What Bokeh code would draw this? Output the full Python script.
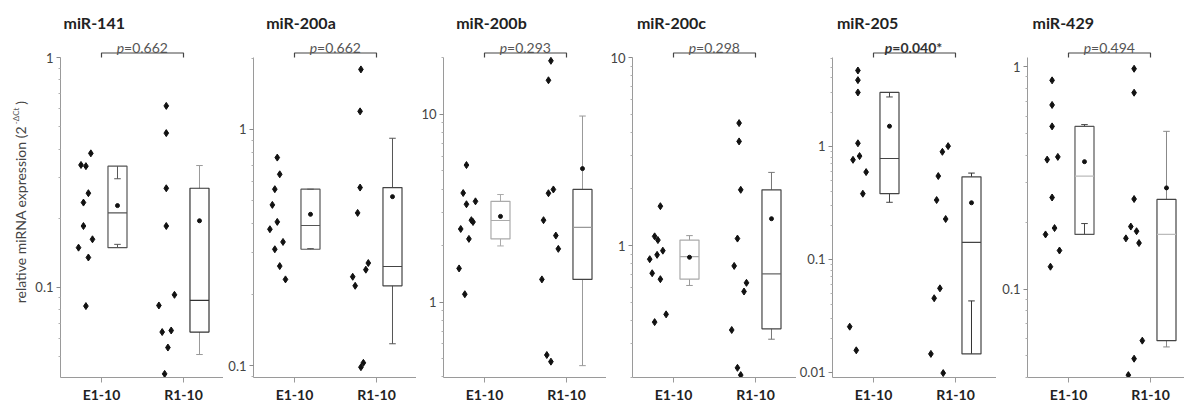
import math
from bokeh.plotting import figure
from bokeh.layouts import row
from bokeh.models import Range1d, FixedTicker, CustomJSTickFormatter
from bokeh.core.properties import value
from bokeh.embed import file_html
from bokeh.resources import INLINE

# ---------------- data ----------------
MIRNAS = ["miR-141", "miR-200a", "miR-200b", "miR-200c", "miR-205", "miR-429"]
GROUPS = ["E1-10", "R1-10"]
P_VALUES = ["=0.662", "=0.662", "=0.293", "=0.298", "=0.040*", "=0.494"]
P_SIGNIFICANT = [False, False, False, False, True, False]
Y_LABEL = "relative miRNA expression (2"
Y_LABEL_SUP = "-ΔCt"

AXIS_MIN = [0.0406, 0.0893, 0.396, 0.199, 0.00903, 0.040]
AXIS_MAX = [1.0, 2.01, 20.1, 10.0, 6.07, 1.10]
MAJOR_TICKS = [[0.1, 1], [0.1, 1], [1, 10], [1, 10], [0.01, 0.1, 1], [0.1, 1]]

# individual values (relative expression)
E_VALUES = [
    [0.383, 0.341, 0.337, 0.257, 0.234, 0.185, 0.162, 0.149, 0.135, 0.083],
    [0.759, 0.645, 0.558, 0.479, 0.406, 0.378, 0.334, 0.311, 0.264, 0.232],
    [5.37, 3.81, 3.44, 3.32, 2.73, 2.67, 2.45, 2.17, 1.51, 1.10],
    [1.62, 1.12, 1.07, 0.940, 0.893, 0.847, 0.713, 0.663, 0.431, 0.392],
    [4.66, 3.83, 2.98, 1.06, 0.817, 0.757, 0.590, 0.380, 0.0254, 0.0157],
    [0.868, 0.673, 0.539, 0.393, 0.382, 0.258, 0.188, 0.176, 0.149, 0.126],
]
R_VALUES = [
    [0.616, 0.469, 0.270, 0.185, 0.0929, 0.0835, 0.064, 0.065, 0.0548, 0.0421],
    [1.79, 1.19, 0.567, 0.443, 0.272, 0.255, 0.238, 0.218, 0.103, 0.0987],
    [19.3, 15.2, 3.98, 3.80, 2.73, 2.26, 1.92, 1.32, 0.522, 0.481],
    [4.48, 3.58, 1.98, 1.09, 0.780, 0.634, 0.570, 0.356, 0.224, 0.205],
    [1.00, 0.891, 0.544, 0.334, 0.227, 0.0554, 0.0453, 0.0146, 0.00988],
    [0.979, 0.764, 0.254, 0.191, 0.182, 0.169, 0.161, 0.0586, 0.0486, 0.0410],
]
# horizontal jitter of the dots (category units)
E_JITTER = [
    [-0.13, -0.25, -0.19, -0.16, -0.22, -0.22, -0.11, -0.28, -0.16, -0.19],
    [-0.21, -0.18, -0.24, -0.27, -0.21, -0.30, -0.14, -0.24, -0.18, -0.11],
    [-0.22, -0.26, -0.11, -0.22, -0.16, -0.14, -0.29, -0.19, -0.31, -0.24],
    [-0.16, -0.23, -0.19, -0.13, -0.20, -0.29, -0.26, -0.16, -0.09, -0.23],
    [-0.19, -0.19, -0.19, -0.19, -0.17, -0.25, -0.09, -0.13, -0.29, -0.21],
    [-0.20, -0.20, -0.20, -0.13, -0.26, -0.20, -0.17, -0.28, -0.11, -0.22],
]
R_JITTER = [
    [-0.21, -0.21, -0.21, -0.21, -0.11, -0.30, -0.26, -0.15, -0.19, -0.23],
    [-0.19, -0.20, -0.20, -0.23, -0.10, -0.13, -0.29, -0.26, -0.16, -0.19],
    [-0.19, -0.22, -0.16, -0.22, -0.28, -0.13, -0.10, -0.30, -0.24, -0.19],
    [-0.20, -0.20, -0.18, -0.22, -0.26, -0.11, -0.14, -0.29, -0.22, -0.18],
    [-0.09, -0.16, -0.21, -0.23, -0.12, -0.19, -0.26, -0.30, -0.15],
    [-0.20, -0.20, -0.20, -0.24, -0.17, -0.30, -0.14, -0.10, -0.20, -0.27],
]
# box statistics
E_Q1 = [0.149, 0.311, 2.17, 0.663, 0.380, 0.176]
E_MEDIAN = [0.211, 0.392, 2.72, 0.874, 0.778, 0.322]
E_Q3 = [0.337, 0.558, 3.44, 1.07, 2.98, 0.539]
E_MEAN = [0.227, 0.437, 2.86, 0.867, 1.50, 0.374]
E_WLO = [0.154, 0.313, 1.99, 0.614, 0.319, 0.197]
E_WHI = [0.297, 0.558, 3.74, 1.13, 2.72, 0.549]
R_Q1 = [0.064, 0.218, 1.32, 0.361, 0.0146, 0.0586]
R_MEDIAN = [0.0878, 0.263, 2.50, 0.708, 0.141, 0.176]
R_Q3 = [0.270, 0.567, 3.98, 1.98, 0.536, 0.253]
R_MEAN = [0.195, 0.519, 5.14, 1.39, 0.316, 0.285]
R_WLO = [0.0511, 0.124, 0.458, 0.318, 0.0429, 0.0549]
R_WHI = [0.339, 0.916, 9.80, 2.45, 0.578, 0.512]

# box colours: (outline, median, whisker)
E_BOX_COLORS = [("#555555", "#555555", "#555555"), ("#555555", "#555555", "#555555"),
                ("#aaaaaa", "#aaaaaa", "#aaaaaa"), ("#aaaaaa", "#aaaaaa", "#999999"),
                ("#444444", "#444444", "#444444"), ("#555555", "#bbbbbb", "#444444")]
R_BOX_COLORS = [("#333333", "#333333", "#999999"), ("#444444", "#444444", "#555555"),
                ("#444444", "#999999", "#999999"), ("#444444", "#666666", "#777777"),
                ("#444444", "#444444", "#333333"), ("#444444", "#bbbbbb", "#888888")]

# ---------------- layout ----------------
FONT = "Lato"
CANVAS_H = 399
TOP_GAP = 57           # px between canvas top and top of y axis
FRAME_H = 377
AXIS_PX = FRAME_H - TOP_GAP
BOTTOM = CANVAS_H - FRAME_H
PX_PER_UNIT = 82.0
LABEL_W = 30
LEFT_BORDERS = [30, 30, 27, 26, 36, 31]
FRAME_WIDTHS = [163, 163, 163, 164, 164, 157]
TITLE_DX = [3, 12.7, 12.7, 4.4, 4.4, 5]
BOX_OFF = 0.195
BOX_HALF = 0.116
CAP_HALF = 0.04


def y_above(i, px):
    lmin, lmax = math.log10(AXIS_MIN[i]), math.log10(AXIS_MAX[i])
    ppl = AXIS_PX / (lmax - lmin)
    return 10 ** (lmax + px / ppl)


def minor_ticks(i):
    lo, hi = AXIS_MIN[i], AXIS_MAX[i]
    out = []
    for d in range(math.floor(math.log10(lo)) - 1, math.ceil(math.log10(hi)) + 1):
        for k in range(2, 10):
            v = k * 10 ** d
            if lo <= v <= hi:
                out.append(v)
    return out


def draw_box(p, xc, q1, med, q3, mean, wlo, whi, colors):
    oc, mc, wc = colors
    p.segment(x0=[xc, xc], y0=[q3, q1], x1=[xc, xc], y1=[whi, wlo], line_color=wc, line_width=1)
    p.segment(x0=[xc - CAP_HALF] * 2, y0=[whi, wlo], x1=[xc + CAP_HALF] * 2, y1=[whi, wlo],
              line_color=wc, line_width=1)
    p.quad(left=[xc - BOX_HALF], right=[xc + BOX_HALF], bottom=[q1], top=[q3],
           fill_color=None, line_color=oc, line_width=1.2)
    p.segment(x0=[xc - BOX_HALF], y0=[med], x1=[xc + BOX_HALF], y1=[med], line_color=mc, line_width=1.2)
    p.scatter(x=[xc], y=[mean], size=4, marker="circle", color="#111111")


# y-axis title panel (rotated text); y measured upward from canvas bottom
lab = figure(width=LABEL_W, height=CANVAS_H, x_range=Range1d(0, LABEL_W), y_range=Range1d(0, CANVAS_H),
             output_backend="svg", toolbar_location=None, min_border=0,
             min_border_left=0, min_border_right=0, min_border_top=0, min_border_bottom=0,
             x_axis_location=None, y_axis_location=None)
lab.outline_line_color = None
lab.grid.visible = False
lab.text(x=[20], y=[264], text=[Y_LABEL], angle=math.pi / 2, text_font=value(FONT),
         text_font_size="14px", text_color="#444444", text_align="right", text_baseline="middle")
lab.text(x=[15.5], y=[266], text=[Y_LABEL_SUP], angle=math.pi / 2, text_font=value(FONT),
         text_font_size="8px", text_color="#555555", text_align="left", text_baseline="middle")
lab.text(x=[20], y=[287], text=[")"], angle=math.pi / 2, text_font=value(FONT),
         text_font_size="14px", text_color="#444444", text_align="left", text_baseline="middle")

figs = [lab]
for i, name in enumerate(MIRNAS):
    fw = FRAME_WIDTHS[i]
    x_end = 0.5 + fw / PX_PER_UNIT
    p = figure(frame_width=fw, frame_height=FRAME_H, x_range=Range1d(0.5, x_end),
               y_range=Range1d(AXIS_MIN[i], y_above(i, TOP_GAP)), y_axis_type="log",
               output_backend="svg", toolbar_location=None,
               min_border_left=LEFT_BORDERS[i], min_border_right=0, min_border_top=0,
               min_border_bottom=BOTTOM)
    p.outline_line_color = None
    p.grid.visible = False

    # x axis
    xa = p.xaxis[0]
    xa.ticker = FixedTicker(ticks=[1, 2])
    xa.major_label_overrides = {1: GROUPS[0], 2: GROUPS[1]}
    xa.minor_tick_line_color = None
    xa.major_tick_in = 0
    xa.major_tick_out = 5
    xa.axis_line_color = "#9a9a9a"
    xa.major_tick_line_color = "#9a9a9a"
    xa.major_label_standoff = 3
    xa.major_label_text_font = FONT
    xa.major_label_text_font_size = "14px"
    xa.major_label_text_font_style = "bold"
    xa.major_label_text_color = "#222222"

    # y axis
    ya = p.yaxis[0]
    ya.ticker = FixedTicker(ticks=MAJOR_TICKS[i], minor_ticks=minor_ticks(i))
    ya.formatter = CustomJSTickFormatter(code="return String(tick)")
    ya.bounds = (AXIS_MIN[i], AXIS_MAX[i])
    ya.axis_line_color = "#9a9a9a"
    ya.major_tick_line_color = "#8a8a8a"
    ya.minor_tick_line_color = "#b0b0b0"
    ya.major_tick_in = 0
    ya.major_tick_out = 4
    ya.minor_tick_in = 0
    ya.minor_tick_out = 2
    ya.major_label_standoff = 3
    ya.major_label_text_font = FONT
    ya.major_label_text_font_size = "13px"
    ya.major_label_text_color = "#444444"

    # dots
    ex = [1 + j for j in E_JITTER[i]]
    rx = [2 + j for j in R_JITTER[i]]
    p.scatter(x=ex, y=E_VALUES[i], marker="diamond", size=7, color="#111111")
    p.scatter(x=rx, y=R_VALUES[i], marker="diamond", size=7, color="#111111")

    # boxes
    draw_box(p, 1 + BOX_OFF, E_Q1[i], E_MEDIAN[i], E_Q3[i], E_MEAN[i], E_WLO[i], E_WHI[i], E_BOX_COLORS[i])
    draw_box(p, 2 + BOX_OFF, R_Q1[i], R_MEDIAN[i], R_Q3[i], R_MEAN[i], R_WLO[i], R_WHI[i], R_BOX_COLORS[i])

    # bracket
    p.line(x=[1, 1, 2, 2], y=[y_above(i, 0), y_above(i, 4.5), y_above(i, 4.5), y_above(i, 0)],
           line_color="#444444", line_width=1.2)

    # p value
    bold = P_SIGNIFICANT[i]
    split = 1.5 - (0.27 if bold else 0.225)
    py = y_above(i, 10.5)
    pcol = "#333333" if bold else "#555555"
    p.text(x=[split], y=[py], text=["p"], text_font=value(FONT), text_font_size="14px",
           text_font_style="bold italic" if bold else "italic", text_color=pcol,
           text_align="right", text_baseline="alphabetic")
    p.text(x=[split], y=[py], text=[P_VALUES[i]], text_font=value(FONT), text_font_size="14px",
           text_font_style="bold" if bold else "normal", text_color=pcol,
           text_align="left", text_baseline="alphabetic")

    # title
    p.text(x=[0.5 + TITLE_DX[i] / PX_PER_UNIT], y=[y_above(i, 35)], text=[name],
           text_font=value(FONT), text_font_size="16px", text_font_style="bold",
           text_color="#222222", text_align="left", text_baseline="middle")
    figs.append(p)

layout = row(*figs)
open("out.html", "w").write(file_html(layout, INLINE))
